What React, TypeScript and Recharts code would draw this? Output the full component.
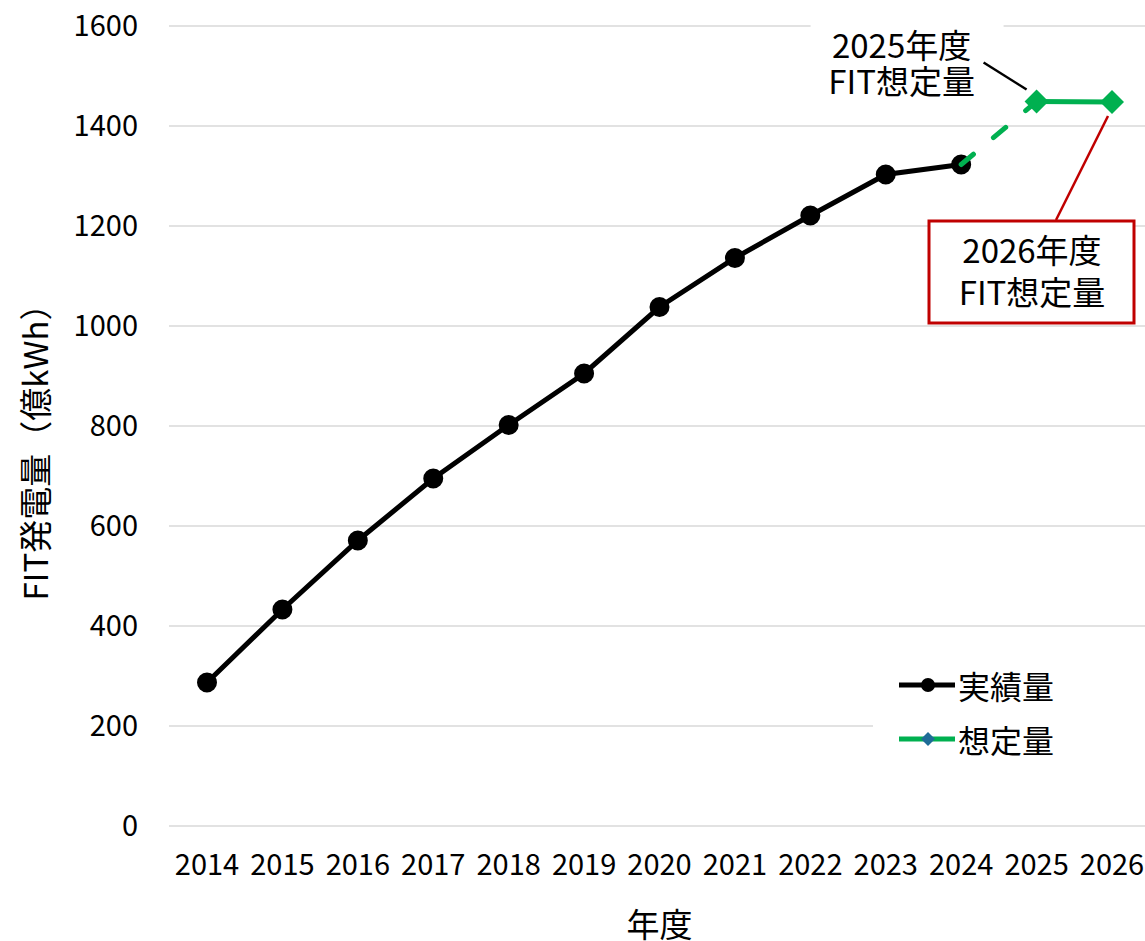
import {
  LineChart,
  Line,
  XAxis,
  YAxis,
  CartesianGrid,
  Legend,
  ReferenceDot,
  Label,
} from "recharts";

const years = ["2014", "2015", "2016", "2017", "2018", "2019", "2020", "2021", "2022", "2023", "2024", "2025", "2026"];
// 実績量 (億kWh)
const actual = [287, 433, 571, 695, 802, 905, 1038, 1136, 1221, 1303, 1323, null, null];
// dashed link from the last actual year to the first estimate
const bridge = [null, null, null, null, null, null, null, null, null, null, 1323, 1449, null];
// 想定量 (億kWh)
const forecast = [null, null, null, null, null, null, null, null, null, null, null, 1449, 1448];
const yTicks = [0, 200, 400, 600, 800, 1000, 1200, 1400, 1600];

const data = years.map((year, i) => ({
  year,
  actual: actual[i],
  bridge: bridge[i],
  forecast: forecast[i],
}));

const FONT = '"Noto Sans CJK JP", "Noto Sans", sans-serif';
const GREEN = "#00b050";
const RED = "#c00000";

const Diamond = (props: any) => {
  const { cx, cy, value } = props;
  if (cx == null || cy == null || value == null) return null;
  const s = 12;
  return (
    <polygon
      points={`${cx},${cy - s} ${cx + s},${cy} ${cx},${cy + s} ${cx - s},${cy}`}
      fill={GREEN}
    />
  );
};

const Note2025 = (props: any) => {
  const { cx, cy } = props;
  if (cx == null || cy == null) return null;
  return (
    <g>
      <rect x={cx - 226} y={cy - 84} width={193} height={82} fill="#fff" />
      <line x1={cx - 53} y1={cy - 39} x2={cx - 10} y2={cy - 12} stroke="#000" strokeWidth={2.5} />
      <text x={cx - 135} y={cy - 58} textAnchor="middle" dominantBaseline="central" fontSize={33} fill="#000">
        2025年度
      </text>
      <text x={cx - 135} y={cy - 22} textAnchor="middle" dominantBaseline="central" fontSize={33} fill="#000">
        FIT想定量
      </text>
    </g>
  );
};

const Note2026 = (props: any) => {
  const { cx, cy } = props;
  if (cx == null || cy == null) return null;
  return (
    <g>
      <line x1={cx - 4} y1={cy + 14} x2={cx - 56} y2={cy + 118} stroke={RED} strokeWidth={2.5} />
      <rect x={cx - 183} y={cy + 119} width={205} height={102} fill="#fff" stroke={RED} strokeWidth={3} />
      <text x={cx - 80} y={cy + 147} textAnchor="middle" dominantBaseline="central" fontSize={33} fill="#000">
        2026年度
      </text>
      <text x={cx - 80} y={cy + 189} textAnchor="middle" dominantBaseline="central" fontSize={33} fill="#000">
        FIT想定量
      </text>
    </g>
  );
};

const LegendBox = () => (
  <div style={{ fontFamily: FONT, fontSize: 32, color: "#000", paddingLeft: 26 }}>
    <div style={{ display: "flex", alignItems: "center", height: 54 }}>
      <svg width={56} height={20}>
        <line x1={0} y1={10} x2={56} y2={10} stroke="#000" strokeWidth={5} strokeLinecap="round" />
        <circle cx={29} cy={10} r={7} fill="#000" />
      </svg>
      <span style={{ marginLeft: 3, lineHeight: 1 }}>実績量</span>
    </div>
    <div style={{ display: "flex", alignItems: "center", height: 54 }}>
      <svg width={56} height={20}>
        <line x1={0} y1={10} x2={56} y2={10} stroke={GREEN} strokeWidth={5} strokeLinecap="round" />
        <polygon points="29,3 36,10 29,17 22,10" fill="#1f6c97" />
      </svg>
      <span style={{ marginLeft: 3, lineHeight: 1 }}>想定量</span>
    </div>
  </div>
);

const App = () => {
  return (
    <div
      style={{
        position: "absolute",
        left: 0,
        top: 0,
        width: 1145,
        height: 941,
        overflow: "hidden",
        background: "#fff",
      }}
    >
      <LineChart
        width={1150}
        height={941}
        data={data}
        margin={{ top: 26, right: 0, left: 0, bottom: 0 }}
        style={{ fontFamily: FONT }}
      >
        <CartesianGrid vertical={false} stroke="#d9d9d9" strokeWidth={1.5} />
        <XAxis
          dataKey="year"
          interval={0}
          height={115}
          padding={{ left: 38, right: 38 }}
          axisLine={false}
          tickLine={false}
          tickSize={0}
          tickMargin={28}
          tick={{ fontSize: 29, fill: "#000" }}
        >
          <Label
            content={(p: any) => {
              const vb = p.viewBox || { x: 169, y: 826, width: 981, height: 115 };
              return (
                <text
                  x={vb.x + vb.width / 2}
                  y={vb.y + vb.height - 18}
                  textAnchor="middle"
                  dominantBaseline="central"
                  fontSize={33}
                  fill="#000"
                >
                  年度
                </text>
              );
            }}
          />
        </XAxis>
        <YAxis
          domain={[0, 1600]}
          ticks={yTicks}
          width={169}
          axisLine={false}
          tickLine={false}
          tickSize={0}
          tickMargin={31}
          tick={{ fontSize: 29, fill: "#000" }}
        >
          <Label
            content={(p: any) => {
              const vb = p.viewBox || { x: 0, y: 26, width: 169, height: 800 };
              const cx = 34;
              const cy = vb.y + vb.height / 2 + 18;
              return (
                <text
                  x={cx}
                  y={cy}
                  transform={`rotate(-90, ${cx}, ${cy})`}
                  textAnchor="middle"
                  dominantBaseline="central"
                  fontSize={33}
                  fill="#000"
                >
                  FIT発電量（億kWh）
                </text>
              );
            }}
          />
        </YAxis>
        <Legend
          layout="vertical"
          align="center"
          verticalAlign="middle"
          content={<LegendBox />}
          wrapperStyle={{ left: 873, top: 658, width: 280, height: 108, background: "#fff" }}
        />
        <Line
          dataKey="actual"
          stroke="#000"
          strokeWidth={5}
          dot={{ r: 9, fill: "#000", stroke: "#000", strokeWidth: 2 }}
          activeDot={false}
          isAnimationActive={false}
          connectNulls={false}
        />
        <Line
          dataKey="bridge"
          stroke={GREEN}
          strokeWidth={5}
          strokeDasharray="16 26"
          strokeLinecap="round"
          dot={false}
          activeDot={false}
          isAnimationActive={false}
          legendType="none"
          zIndex={700}
        />
        <Line
          dataKey="forecast"
          stroke={GREEN}
          strokeWidth={5}
          dot={<Diamond />}
          activeDot={false}
          isAnimationActive={false}
        />
        <ReferenceDot x="2025" y={forecast[11] as number} shape={(p: any) => <Note2025 {...p} />} />
        <ReferenceDot x="2026" y={forecast[12] as number} shape={(p: any) => <Note2026 {...p} />} />
      </LineChart>
    </div>
  );
};

export default App;
